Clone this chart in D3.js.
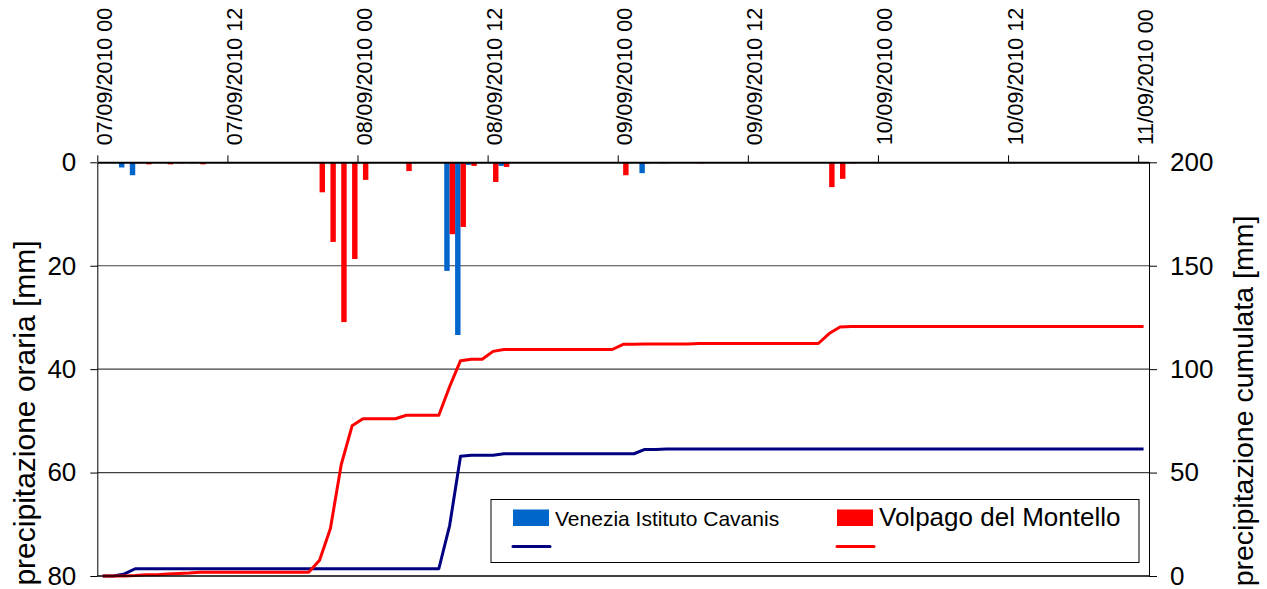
<html>
<head>
<meta charset="utf-8">
<title>precipitazione</title>
<style>
  body { margin: 0; background: #fff; }
  text { font-family: "Liberation Sans", Arial, sans-serif; fill: #000; }
</style>
</head>
<body>
<script src="https://cdn.jsdelivr.net/npm/d3@7/dist/d3.min.js"></script>
<script>
    var width = 1267;
    var height = 589;

    // one value per hour, 97 hours (07/09/2010 00 -> 11/09/2010 00)
    var venezia = [
        0, 0, 1.0, 2.5, 0, 0, 0, 0, 0, 0, 0, 0,
        0, 0, 0, 0, 0, 0, 0, 0, 0, 0, 0, 0,
        0, 0, 0, 0, 0, 0, 0, 0, 21.0, 33.4, 0.5, 0,
        0, 0.7, 0, 0, 0, 0, 0, 0, 0, 0, 0, 0,
        0, 0, 2.1, 0, 0.2, 0, 0, 0, 0, 0, 0, 0,
        0, 0, 0, 0, 0, 0, 0, 0, 0, 0, 0, 0,
        0, 0, 0, 0, 0, 0, 0, 0, 0, 0, 0, 0,
        0, 0, 0, 0, 0, 0, 0, 0, 0, 0, 0, 0,
        0
    ];
    var volpago = [
        0, 0, 0, 0.2, 0.4, 0, 0.4, 0.2, 0.2, 0.4, 0, 0,
        0, 0, 0, 0, 0, 0, 0, 0, 5.8, 15.4, 30.9, 18.7,
        3.4, 0, 0, 0, 1.7, 0, 0, 0, 13.9, 12.5, 0.7, 0,
        3.8, 0.9, 0, 0, 0, 0, 0, 0, 0, 0, 0, 0,
        2.5, 0, 0.2, 0, 0, 0, 0, 0.2, 0, 0, 0, 0,
        0, 0, 0, 0, 0, 0, 0, 4.8, 3.2, 0.2, 0, 0,
        0, 0, 0, 0, 0, 0, 0, 0, 0, 0, 0, 0,
        0, 0, 0, 0, 0, 0, 0, 0, 0, 0, 0, 0,
        0
    ];
    var seriesNames = ["Venezia Istituto Cavanis", "Volpago del Montello"];
    var tickHours = [0, 12, 24, 36, 48, 60, 72, 84, 96];
    var tickLabels = ["07/09/2010 00", "07/09/2010 12", "08/09/2010 00", "08/09/2010 12",
        "09/09/2010 00", "09/09/2010 12", "10/09/2010 00", "10/09/2010 12", "11/09/2010 00"];
    var leftTicks = [0, 20, 40, 60, 80];
    var rightTicks = [0, 50, 100, 150, 200];

    var barColor = ["#0066cc", "#ff0000"];
    var lineColor = ["#000080", "#ff0000"];

    var plotLeft = 97.3, plotRight = 1149, plotTop = 162.3, plotBottom = 576;

    var svg = d3.select("body")
            .append("svg")
            .attr("width", width)
            .attr("height", height);

    var x = d3.scaleLinear().domain([0, venezia.length]).range([plotLeft, plotRight]);
    var yLeft = d3.scaleLinear().domain([0, 80]).range([plotTop, plotBottom]);
    var yRight = d3.scaleLinear().domain([0, 200]).range([plotBottom, plotTop]);

    // gridlines
    svg.append("g")
        .selectAll("line")
        .data([20, 40, 60])
        .enter()
        .append("line")
        .attr("x1", plotLeft).attr("x2", plotRight)
        .attr("y1", function(d){ return yLeft(d); })
        .attr("y2", function(d){ return yLeft(d); })
        .attr("stroke", "#404040")
        .attr("stroke-width", 1.2);

    // hourly bars, two per hour side by side
    var half = (x(1) - x(0)) / 2;
    [venezia, volpago].forEach(function(series, s){
        svg.append("g")
            .selectAll("rect")
            .data(series.map(function(v, i){ return {i: i, v: v}; }).filter(function(d){ return d.v > 0; }))
            .enter()
            .append("rect")
            .attr("x", function(d){ return x(d.i) + s * half; })
            .attr("y", yLeft(0))
            .attr("width", half)
            .attr("height", function(d){ return yLeft(d.v) - yLeft(0); })
            .attr("fill", barColor[s]);
    });

    // cumulative lines
    var line = d3.line()
            .x(function(d, i){ return x(i + 0.5); })
            .y(function(d){ return yRight(d); });
    [venezia, volpago].forEach(function(series, s){
        svg.append("path")
            .attr("d", line(Array.from(d3.cumsum(series))))
            .attr("fill", "none")
            .attr("stroke", lineColor[s])
            .attr("stroke-width", 3)
            .attr("stroke-linejoin", "round");
    });

    // axes
    var topAxis = d3.axisTop(x)
            .tickValues(tickHours)
            .tickSize(7)
            .tickSizeOuter(0)
            .tickFormat(function(d, i){ return tickLabels[i]; });
    var gTop = svg.append("g")
            .attr("transform", "translate(0," + plotTop + ")")
            .call(topAxis);
    gTop.selectAll("text")
        .attr("transform", "rotate(-90)")
        .attr("x", 17)
        .attr("y", 14)
        .attr("dy", 0)
        .attr("text-anchor", "start")
        .style("font-size", "21.5px");
    gTop.select(".domain").attr("stroke-width", 2);

    var gLeft = svg.append("g")
            .attr("transform", "translate(" + plotLeft + ",0)")
            .call(d3.axisLeft(yLeft).tickValues(leftTicks).tickSize(7).tickSizeOuter(0).tickPadding(14));
    gLeft.selectAll("text").style("font-size", "26px");

    var gRight = svg.append("g")
            .attr("transform", "translate(" + plotRight + ",0)")
            .call(d3.axisRight(yRight).tickValues(rightTicks).tickSize(8).tickSizeOuter(0).tickPadding(13));
    gRight.selectAll("text").style("font-size", "26px");

    svg.append("line")
        .attr("x1", plotLeft).attr("x2", plotRight)
        .attr("y1", plotBottom).attr("y2", plotBottom)
        .attr("stroke", "#000")
        .attr("stroke-width", 1.5);

    svg.selectAll(".domain, .tick line").attr("stroke", "#000");

    // axis titles
    svg.append("text")
        .attr("transform", "translate(35,413) rotate(-90)")
        .attr("text-anchor", "middle")
        .style("font-size", "30px")
        .text("precipitazione oraria [mm]");
    svg.append("text")
        .attr("transform", "translate(1253,401) rotate(-90)")
        .attr("text-anchor", "middle")
        .style("font-size", "28.5px")
        .text("precipitazione cumulata [mm]");

    // legend
    var legend = svg.append("g");
    legend.append("rect")
        .attr("x", 491).attr("y", 499.5)
        .attr("width", 648).attr("height", 63)
        .attr("fill", "#fff")
        .attr("stroke", "#000")
        .attr("stroke-width", 1);
    var legX = [513, 837];
    var legText = [555, 879];
    var legSize = [21, 26];
    seriesNames.forEach(function(name, s){
        legend.append("rect")
            .attr("x", legX[s]).attr("y", 509.5)
            .attr("width", 36).attr("height", 16.5)
            .attr("fill", barColor[s]);
        legend.append("text")
            .attr("x", legText[s]).attr("y", 526)
            .style("font-size", legSize[s] + "px")
            .text(name);
        legend.append("line")
            .attr("x1", legX[s]).attr("x2", legX[s] + 37)
            .attr("y1", 546.5).attr("y2", 546.5)
            .attr("stroke", lineColor[s])
            .attr("stroke-width", 3)
            .attr("stroke-linecap", "round");
    });
</script>
</body>
</html>
